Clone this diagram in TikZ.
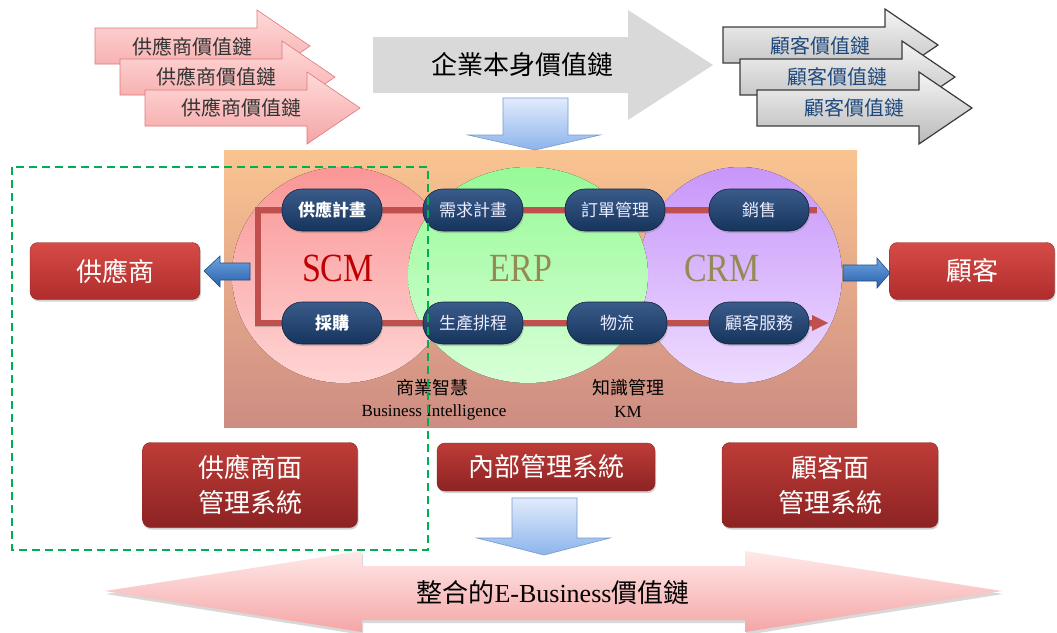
\documentclass[tikz,border=0pt]{standalone}
\usepackage{graphicx}
\usepackage{fontspec}
\setmainfont{Liberation Serif}
\newfontfamily\cjk{Noto Sans CJK TC}
\usetikzlibrary{shadows,arrows.meta}
\definecolor{pinkT}{RGB}{255,218,218}
\definecolor{pinkB}{RGB}{245,165,165}
\definecolor{pinkD}{RGB}{225,120,120}
\definecolor{grayT}{RGB}{245,245,245}
\definecolor{grayB}{RGB}{185,185,185}
\definecolor{grayD}{RGB}{60,60,60}
\definecolor{bigGray}{RGB}{217,217,217}
\definecolor{txtBlue}{RGB}{31,73,125}
\definecolor{bluT}{RGB}{225,235,252}
\definecolor{bluB}{RGB}{140,180,235}
\definecolor{bluD}{RGB}{120,155,205}
\definecolor{rectT}{RGB}{250,196,145}
\definecolor{rectB}{RGB}{205,140,130}
\definecolor{scmT}{RGB}{250,150,150}
\definecolor{scmB}{RGB}{255,212,212}
\definecolor{erpT}{RGB}{150,250,150}
\definecolor{erpB}{RGB}{215,255,215}
\definecolor{crmT}{RGB}{200,150,250}
\definecolor{crmB}{RGB}{238,220,255}
\definecolor{scmTxt}{RGB}{192,0,0}
\definecolor{olive}{RGB}{148,138,84}
\definecolor{navyT}{RGB}{58,92,138}
\definecolor{navyB}{RGB}{22,52,92}
\definecolor{navyD}{RGB}{15,35,65}
\definecolor{lineRed}{RGB}{192,80,77}
\definecolor{boxT}{RGB}{215,75,70}
\definecolor{boxB}{RGB}{175,45,45}
\definecolor{boxT2}{RGB}{190,60,55}
\definecolor{boxB2}{RGB}{140,35,35}
\definecolor{sideT}{RGB}{110,165,225}
\definecolor{sideB}{RGB}{40,95,170}
\definecolor{dashGreen}{RGB}{0,176,80}
\newcommand{\myarrow}[5]{%
  \draw[#1] (#2,#3-18) -- (#4,#3-18) -- (#4,#3-36) -- (#5,#3) -- (#4,#3+36) -- (#4,#3+18) -- (#2,#3+18) -- cycle;}
\tikzset{
  pinkarrow/.style={draw=pinkD, line width=0.6pt, top color=pinkT, bottom color=pinkB},
  grayarrow/.style={draw=grayD, line width=1.2pt, top color=grayT, bottom color=grayB},
  bluearrow/.style={draw=bluD, line width=0.6pt, top color=bluT, bottom color=bluB},
  sidearrow/.style={draw=sideB!80!black, line width=0.6pt, top color=sideT, bottom color=sideB},
  pinktext/.style={text=black!80, font=\cjk\fontsize{20}{22}\selectfont, inner sep=0pt},
  graytext/.style={text=txtBlue, font=\cjk\fontsize{20}{22}\selectfont, inner sep=0pt},
  pill/.style={rounded corners=20pt, minimum width=100pt, minimum height=42pt, inner sep=0pt,
    draw=navyD, line width=0.6pt, top color=navyT, bottom color=navyB, text=white!92!blue,
    font=\cjk\fontsize{17}{18}\selectfont,
    drop shadow={opacity=0.35, shadow xshift=1pt, shadow yshift=-2pt}},
  redline/.style={line width=5.5pt, draw=lineRed,
    preaction={draw=black!60, line width=5.5pt, opacity=0.35, transform canvas={yshift=-1.5pt}}},
  redbox/.style={rounded corners=8pt, inner sep=0pt, top color=boxT, bottom color=boxB,
    draw=boxB!80!black, line width=0.4pt, text=white, align=center,
    font=\cjk\fontsize{26}{35}\selectfont,
    drop shadow={opacity=0.35, shadow xshift=1pt, shadow yshift=-2pt}},
  darkbox/.style={redbox, top color=boxT2, bottom color=boxB2},
  bigtext/.style={font=\fontsize{40}{40}\selectfont, inner sep=0pt},
  smalltext/.style={font=\fontsize{17}{18}\selectfont, inner sep=0pt, text=black}
}
\begin{document}
\begin{tikzpicture}[x=1pt,y=-1pt]
\useasboundingbox[fill=white] (0,0) rectangle (1057,632);
% supplier value chains
\myarrow{pinkarrow}{95}{46}{257}{310}
\node[pinktext] (sv1) at (192,47) {供應商價值鏈};
\myarrow{pinkarrow}{120}{77}{282}{335}
\node[pinktext] (sv2) at (216,77) {供應商價值鏈};
\myarrow{pinkarrow}{145}{108}{307}{360}
\node[pinktext] (sv3) at (241,108) {供應商價值鏈};
% customer value chains
\myarrow{grayarrow}{723}{45}{885}{938}
\node[graytext] (cv1) at (820,46) {顧客價值鏈};
\myarrow{grayarrow}{740}{77}{902}{955}
\node[graytext] (cv2) at (837,77) {顧客價值鏈};
\myarrow{grayarrow}{757}{108}{919}{972}
\node[graytext] (cv3) at (854,108) {顧客價值鏈};
% enterprise value chain
\fill[bigGray] (373,37) -- (628,37) -- (628,10) -- (713,65) -- (628,120) -- (628,93) -- (373,93) -- cycle;
\node[font=\cjk\fontsize{26}{28}\selectfont, inner sep=0pt] (ev) at (522,65) {企業本身價值鏈};
% main panel
\fill[top color=rectT, bottom color=rectB] (224,150) rectangle (857,427);
% down arrow top
\draw[bluearrow] (503,98) -- (568,98) -- (568,135) -- (600,135) -- (535,150) -- (468,135) -- (503,135) -- cycle;
% circles
\fill[top color=scmT, bottom color=scmB] (343,275) ellipse (111pt and 108pt);
\fill[top color=crmT, bottom color=crmB] (740,275) ellipse (102pt and 108pt);
\fill[top color=erpT, bottom color=erpB] (528,275) ellipse (120pt and 108pt);
\node[bigtext, text=scmTxt] (scm) at (338,268) {\scalebox{0.85}[1]{SCM}};
\node[bigtext, text=olive] (erp) at (521,268) {\scalebox{0.85}[1]{ERP}};
\node[bigtext, text=olive] (crm) at (722,268) {\scalebox{0.85}[1]{CRM}};
% pill positions
\coordinate (c1) at (332,210);
\coordinate (c2) at (332,323);
\coordinate (c3) at (473,210);
\coordinate (c4) at (473,323);
\coordinate (c5) at (615,210);
\coordinate (c6) at (617,323);
\coordinate (c7) at (759,210);
\coordinate (c8) at (759,323);
\coordinate (bk1) at (258,210);
\coordinate (bk2) at (258,323);
\coordinate (topend) at (817,210);
\coordinate (botend) at (828,323);
\draw[redline] (c1) -- (bk1) -- (bk2) -- (c2);
\draw[redline] (c1) -- (c3) -- (c5) -- (c7) -- (topend);
\draw[redline] (c2) -- (c4) -- (c6) -- (c8) -- (814,323);
\fill[lineRed] (812,315) -- (828,323) -- (812,331) -- cycle;
\node[pill, font=\cjk\bfseries\fontsize{17}{18}\selectfont, text=white] (p1) at (c1) {供應計畫};
\node[pill, font=\cjk\bfseries\fontsize{17}{18}\selectfont, text=white] (p2) at (c2) {採購};
\node[pill] (p3) at (c3) {需求計畫};
\node[pill] (p4) at (c4) {生產排程};
\node[pill] (p5) at (c5) {訂單管理};
\node[pill] (p6) at (c6) {物流};
\node[pill] (p7) at (c7) {銷售};
\node[pill] (p8) at (c8) {顧客服務};
% BI / KM
\node[smalltext, font=\cjk\fontsize{18}{20}\selectfont] (bi1) at (432,388) {商業智慧};
\node[smalltext] (bi2) at (434,412) {Business Intelligence};
\node[smalltext, font=\cjk\fontsize{18}{20}\selectfont] (km1) at (628,388) {知識管理};
\node[smalltext] (km2) at (628,412) {KM};
% side boxes and arrows
\node[redbox, minimum width=170pt, minimum height=57pt] (sup) at (115,271) {供應商};
\node[redbox, minimum width=165pt, minimum height=57pt] (cus) at (972,271) {顧客};
\draw[sidearrow] (250,263) -- (220,263) -- (220,256) -- (204,271) -- (220,287) -- (220,280) -- (250,280) -- cycle;
\draw[sidearrow] (843,265) -- (877,265) -- (877,258) -- (890,273) -- (877,288) -- (877,281) -- (843,281) -- cycle;
% bottom boxes
\node[darkbox, minimum width=215pt, minimum height=85pt] (b1) at (250,485) {供應商面\\管理系統};
\node[darkbox, minimum width=218pt, minimum height=48pt] (b2) at (546,467) {內部管理系統};
\node[darkbox, minimum width=216pt, minimum height=85pt] (b3) at (830,485) {顧客面\\管理系統};
% down arrow bottom
\draw[bluearrow] (512,498) -- (577,498) -- (577,538) -- (610,538) -- (544,555) -- (477,538) -- (512,538) -- cycle;
% big double arrow
\path[top color=pinkT!60!white, bottom color=pinkB, drop shadow={opacity=0.3, shadow xshift=1pt, shadow yshift=-3pt}]
  (105,591) -- (362,551) -- (362,566) -- (745,566) -- (745,551) -- (1002,591) -- (745,632) -- (745,620) -- (362,620) -- (362,632) -- cycle;
\node[inner sep=0pt, font=\fontsize{26}{28}\selectfont] (eb) at (553,593) {{\cjk 整合的}E-Business{\cjk 價值鏈}};
% green dashed frame
\draw[dashGreen, line width=2.6pt, dash pattern=on 8pt off 5pt] (12,167) rectangle (428,550);
\end{tikzpicture}
\end{document}
